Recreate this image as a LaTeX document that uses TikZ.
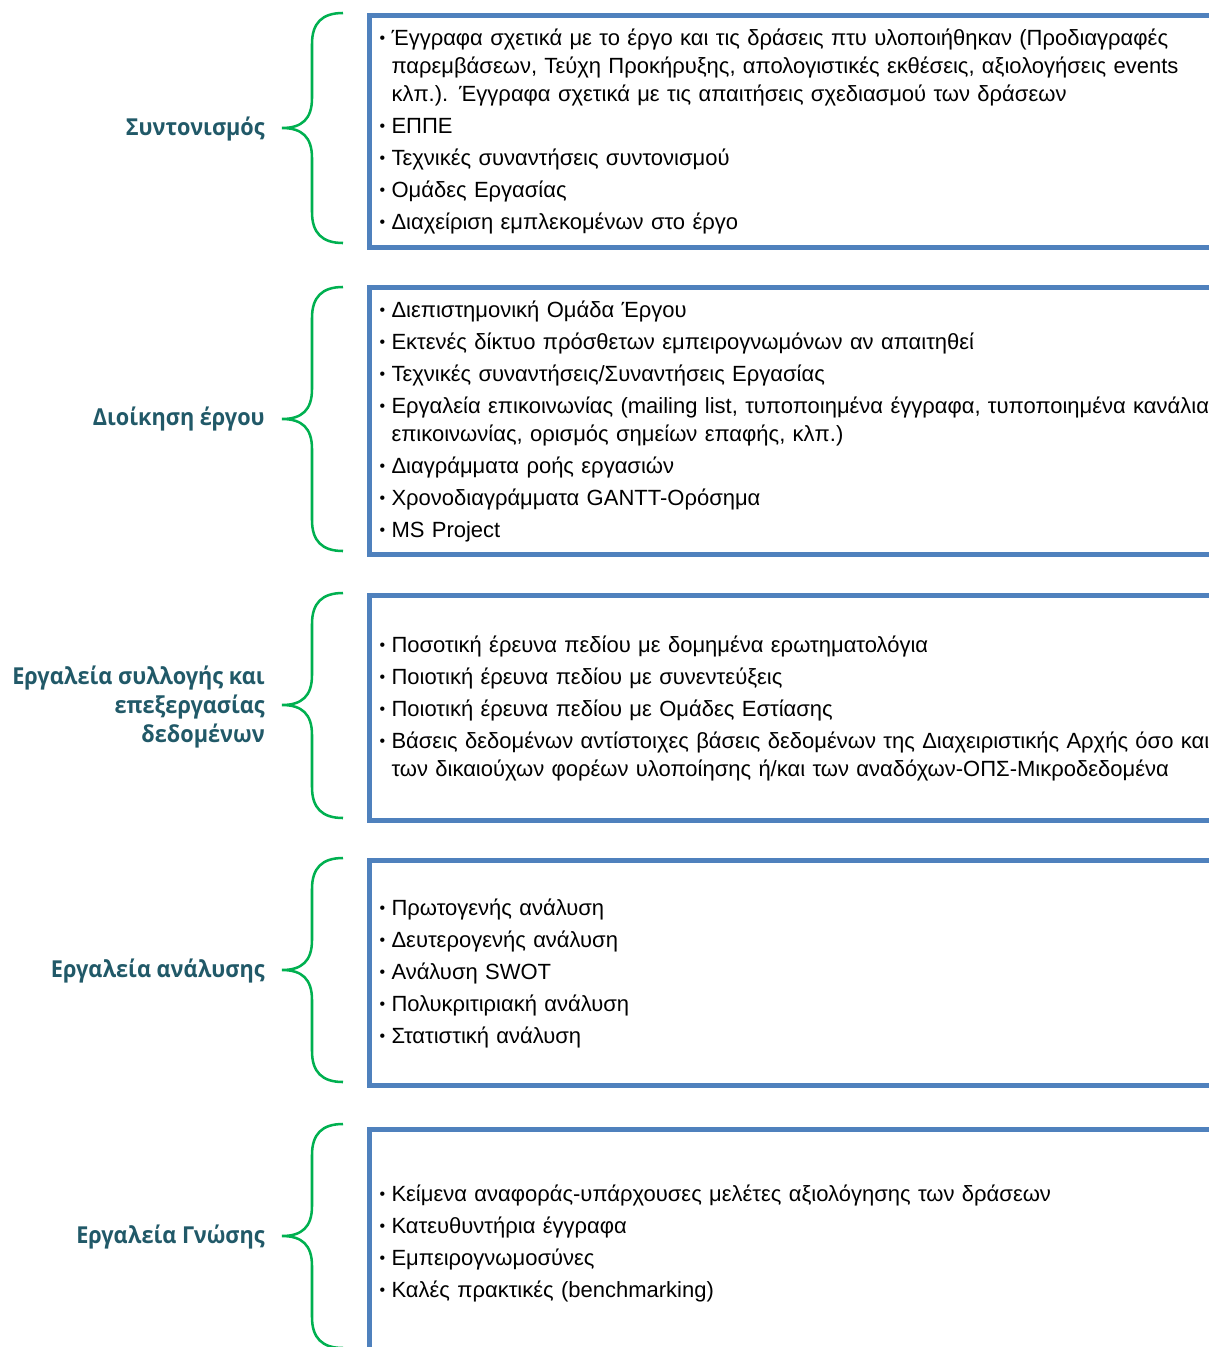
\documentclass[tikz,border=0pt]{standalone}
\usepackage{fontspec}
\setmainfont{Liberation Sans}
\newfontfamily\lblfont{Open Sans}[FakeStretch=0.93]
\usetikzlibrary{positioning}

\definecolor{boxblue}{HTML}{4F81BD}
\definecolor{bracegreen}{HTML}{00B050}
\definecolor{lblteal}{HTML}{215968}

\tikzset{
  itembox/.style={draw=boxblue, line width=3.75pt, anchor=north west,
    inner xsep=7.5pt, inner ysep=0pt, text width=700pt, align=left,
    font=\fontsize{16.5pt}{21pt}\selectfont},
  grouplabel/.style={anchor=east, align=right, inner sep=0pt, text=lblteal,
    font=\lblfont\bfseries\fontsize{17.5pt}{21.75pt}\selectfont},
  brc/.style={draw=bracegreen, line width=1.9pt}
}

% bullet and indent of a wrapped line
\newcommand{\bl}{\makebox[9pt][l]{\fontsize{12pt}{12pt}\selectfont\raisebox{1.4pt}{•}}}
\newcommand{\ind}{\hspace*{9pt}}
% green brace: top, middle, bottom (px)
\newcommand{\grbrace}[3]{%
  \draw[brc] (343,#1) .. controls (322,#1) and (312,#1+10) .. (312,#1+31)
    -- (312,#2-30) .. controls (312,#2-9) and (302,#2) .. (282,#2)
    .. controls (302,#2) and (312,#2+9) .. (312,#2+30)
    -- (312,#3-31) .. controls (312,#3-10) and (322,#3) .. (343,#3);}

\begin{document}
\begin{tikzpicture}[x=0.75pt, y=-0.75pt]
  \useasboundingbox (0,0) rectangle (1208,1347);

  \node[itembox, minimum height=174pt] (b1) at (367,13) {%
    \bl Έγγραφα σχετικά με το έργο και τις δράσεις πτυ υλοποιήθηκαν (Προδιαγραφές\\
    \ind παρεμβάσεων, Τεύχη Προκήρυξης, απολογιστικές εκθέσεις, αξιολογήσεις events\\
    \ind κλπ.). Έγγραφα σχετικά με τις απαιτήσεις σχεδιασμού των δράσεων\\[3pt]
    \bl ΕΠΠΕ\\[3pt]
    \bl Τεχνικές συναντήσεις συντονισμού\\[3pt]
    \bl Ομάδες Εργασίας\\[3pt]
    \bl Διαχείριση εμπλεκομένων στο έργο};
  \node[itembox, minimum height=200.25pt] (b2) at (367,285) {%
    \bl Διεπιστημονική Ομάδα Έργου\\[3pt]
    \bl Εκτενές δίκτυο πρόσθετων εμπειρογνωμόνων αν απαιτηθεί\\[3pt]
    \bl Τεχνικές συναντήσεις/Συναντήσεις Εργασίας\\[3pt]
    \bl Εργαλεία επικοινωνίας (mailing list, τυποποιημένα έγγραφα, τυποποιημένα κανάλια\\
    \ind επικοινωνίας, ορισμός σημείων επαφής, κλπ.)\\[3pt]
    \bl Διαγράμματα ροής εργασιών\\[3pt]
    \bl Χρονοδιαγράμματα GANTT-Ορόσημα\\[3pt]
    \bl MS Project};
  \node[itembox, minimum height=168.75pt] (b3) at (367,593) {%
    \bl Ποσοτική έρευνα πεδίου με δομημένα ερωτηματολόγια\\[3pt]
    \bl Ποιοτική έρευνα πεδίου με συνεντεύξεις\\[3pt]
    \bl Ποιοτική έρευνα πεδίου με Ομάδες Εστίασης\\[3pt]
    \bl Βάσεις δεδομένων αντίστοιχες βάσεις δεδομένων της Διαχειριστικής Αρχής όσο και\\
    \ind των δικαιούχων φορέων υλοποίησης ή/και των αναδόχων-ΟΠΣ-Μικροδεδομένα};
  \node[itembox, minimum height=168.75pt] (b4) at (367,858) {%
    \bl Πρωτογενής ανάλυση\\[3pt]
    \bl Δευτερογενής ανάλυση\\[3pt]
    \bl Ανάλυση SWOT\\[3pt]
    \bl Πολυκριτιριακή ανάλυση\\[3pt]
    \bl Στατιστική ανάλυση};
  \node[itembox, minimum height=170.25pt] (b5) at (367,1127) {%
    \bl Κείμενα αναφοράς-υπάρχουσες μελέτες αξιολόγησης των δράσεων\\[3pt]
    \bl Κατευθυντήρια έγγραφα\\[3pt]
    \bl Εμπειρογνωμοσύνες\\[3pt]
    \bl Καλές πρακτικές (benchmarking)};

  % braces
  \grbrace{13}{128}{243}
  \grbrace{287}{419}{551}
  \grbrace{593}{705}{818}
  \grbrace{858}{970}{1082}
  \grbrace{1124}{1236}{1348}

  % group labels
  \node[grouplabel] (l1) at (265,129) {Συντονισμός};
  \node[grouplabel] (l2) at (265,419) {Διοίκηση έργου};
  \node[grouplabel] (l3) at (265,707) {Εργαλεία συλλογής και\\ επεξεργασίας\\ δεδομένων};
  \node[grouplabel] (l4) at (265,971) {Εργαλεία ανάλυσης};
  \node[grouplabel] (l5) at (265,1237) {Εργαλεία Γνώσης};
\end{tikzpicture}
\end{document}
